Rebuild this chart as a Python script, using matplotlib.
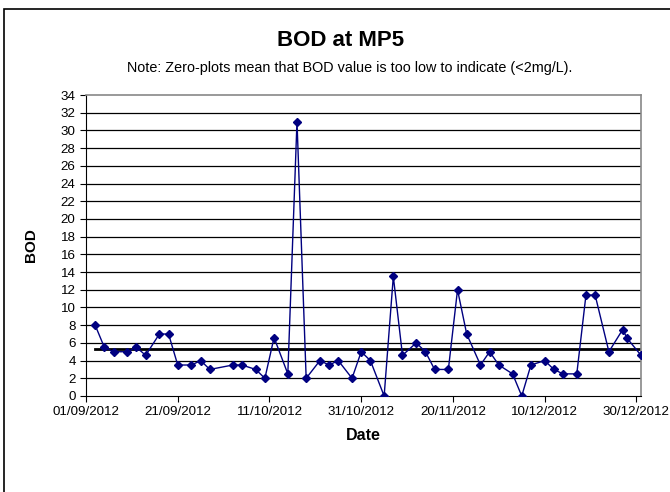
import datetime as dt
import matplotlib
matplotlib.use("Agg")
import matplotlib.pyplot as plt
import matplotlib.dates as mdates
from matplotlib.patches import Rectangle

plt.rcParams['font.family'] = ['Liberation Sans', 'DejaVu Sans']

# sample dates (day, month) in 2012 and BOD readings
days = [3, 5, 7, 10, 12, 14, 17, 19, 21, 24, 26, 28,
        3, 5, 8, 10, 12, 15, 17, 19, 22, 24, 26, 29, 31,
        2, 5, 7, 9, 12, 14, 16, 19, 21, 23, 26, 28, 30,
        3, 5, 7, 10, 12, 14, 17, 19, 21, 24, 27, 28, 31]
months = [9] * 12 + [10] * 13 + [11] * 13 + [12] * 13
bod = [8, 5.5, 5, 5, 5.5, 4.6, 7, 7, 3.5, 3.5, 4, 3,
       3.5, 3.5, 3, 2, 6.6, 2.5, 31, 2, 4, 3.5, 4, 2, 5,
       4, 0, 13.5, 4.6, 6, 5, 3, 3, 12, 7, 3.5, 5, 3.5,
       2.5, 0, 3.5, 4, 3, 2.5, 2.5, 11.4, 11.4, 5, 7.5, 6.5, 4.6]
guide_value = 5.3

dates = [dt.date(2012, m, d) for d, m in zip(days, months)]

fig = plt.figure(figsize=(6.7, 4.92), dpi=100)
fig.patches.append(Rectangle((4 / 670, -0.1), 1.1, 1.1 - 9 / 492,
                             transform=fig.transFigure, fill=False,
                             edgecolor='black', linewidth=1.2))

ax = fig.add_axes([86 / 670, 1 - 396 / 492, (641 - 86) / 670, (396 - 95) / 492])

for v in range(2, 34, 2):
    ax.axhline(v, color='black', linewidth=0.9, zorder=1)

ax.plot([dates[0], dt.date(2012, 12, 31)], [guide_value, guide_value],
        color='black', linewidth=2, zorder=2)
ax.plot(dates, bod, color='#000080', linewidth=1, marker='D',
        markersize=4.5, markerfacecolor='#000080', markeredgecolor='#000080',
        zorder=3)

ax.set_xlim(dt.date(2012, 9, 1), dt.date(2012, 12, 31))
ax.set_ylim(0, 34)
ax.set_yticks(range(0, 35, 2))
ticks = [dt.date(2012, 9, 1) + dt.timedelta(days=20 * i) for i in range(7)]
ax.set_xticks(ticks)
ax.xaxis.set_major_formatter(mdates.DateFormatter('%d/%m/%Y'))
ax.tick_params(axis='both', labelsize=9.6, length=4, width=0.8, direction='out')

for side in ['top', 'right']:
    ax.spines[side].set_color('#888888')
    ax.spines[side].set_linewidth(1.2)
for side in ['left', 'bottom']:
    ax.spines[side].set_color('black')
    ax.spines[side].set_linewidth(0.8)

ax.set_xlabel('Date', fontsize=11.5, fontweight='bold', labelpad=7)
ax.set_ylabel('BOD', fontsize=11, fontweight='bold', labelpad=16)

fig.text(341 / 670, 1 - 40 / 492, 'BOD at MP5', ha='center', va='center',
         fontsize=16, fontweight='bold')
fig.text(350 / 670, 1 - 68 / 492,
         'Note: Zero-plots mean that BOD value is too low to indicate (<2mg/L).',
         ha='center', va='center', fontsize=10.4)

fig.savefig('out.png', dpi=100)
